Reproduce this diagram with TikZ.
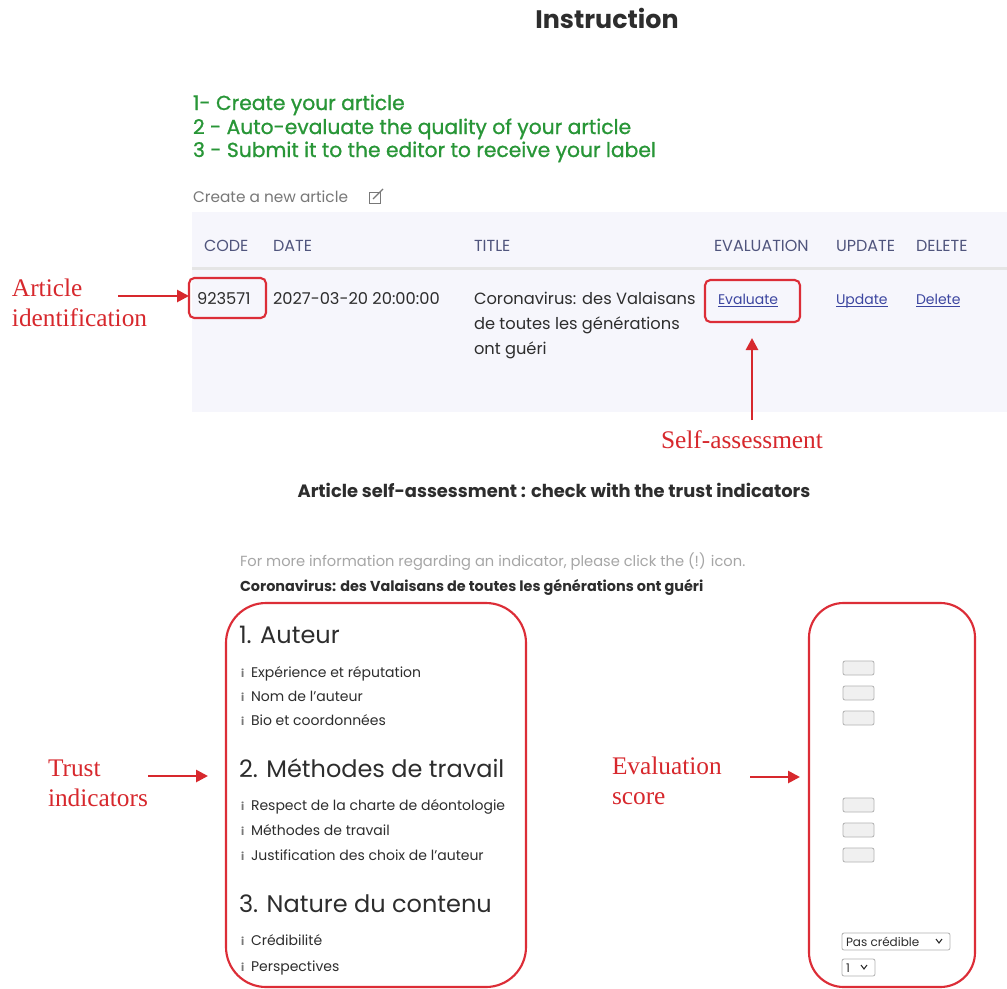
\documentclass[tikz,border=0pt]{standalone}
\usepackage{fontspec}
\setmainfont{Poppins}
\newfontfamily\redserif{Liberation Serif}
\newfontfamily\popmed[FakeBold=1]{Poppins}
\usetikzlibrary{arrows.meta}
\definecolor{boxred}{RGB}{220,45,55}
\definecolor{lblred}{RGB}{215,40,45}
\definecolor{stepgreen}{RGB}{40,150,55}
\definecolor{hdrblue}{RGB}{80,85,125}
\definecolor{linkblue}{RGB}{60,70,160}
\definecolor{tablebg}{RGB}{246,246,252}
\definecolor{txtdark}{RGB}{45,45,45}
\definecolor{txtgray}{RGB}{120,120,120}
\begin{document}
\begin{tikzpicture}[x=0.75pt,y=-0.75pt,
  every node/.style={inner sep=0pt,outer sep=0pt},
  hdr/.style={anchor=base west,text=hdrblue,font=\fontsize{12}{14}\selectfont},
  rowtxt/.style={anchor=base west,text=txtdark,font=\fontsize{12.2}{14}\selectfont},
  linktxt/.style={anchor=base west,text=linkblue,font=\fontsize{10.5}{12}\selectfont},
  green/.style={anchor=base west,text=stepgreen,font=\popmed\fontsize{15.2}{18}\selectfont},
  heading/.style={anchor=base west,text=txtdark,font=\fontsize{18}{21}\selectfont},
  item/.style={anchor=base west,text=txtdark,font=\fontsize{10.5}{12}\selectfont},
  icon/.style={anchor=base west,text=txtgray,font=\bfseries\fontsize{8}{9}\selectfont},
  lbl/.style={anchor=north west,align=left,text=lblred,font=\redserif\fontsize{19}{22.5}\selectfont},
  redbox/.style={draw=boxred,line width=1.6pt,rounded corners=4pt},
  bigbox/.style={draw=boxred,line width=1.6pt},
  redarrow/.style={draw=lblred,line width=2pt,-{Triangle[length=9pt,width=9pt]}},
  inbox/.style={draw=black!30,fill=black!6,rounded corners=1.5pt,line width=0.6pt},
  uline/.style={draw=linkblue,line width=0.5pt},
]
\useasboundingbox (0,0) rectangle (1007,989);
\fill[white] (0,0) rectangle (1007,989);

% title
\node[anchor=base,font=\bfseries\fontsize{19}{22}\selectfont,text=txtdark] (title) at (607,28) {Instruction};

% steps
\node[green] (s1) at (193,110) {1- Create your article};
\node[green] (s2) at (193,134) {2 - Auto-evaluate the quality of your article};
\node[green] (s3) at (193,157) {3 - Submit it to the editor to receive your label};

\node[anchor=base west,text=txtgray,font=\fontsize{11.5}{13}\selectfont] (create) at (193,202) {Create a new article};
\draw[txtgray,line width=0.6pt] (369,192) rectangle (380,203);
\draw[txtgray,line width=0.9pt] (373,199) -- (383,189);

% table
\fill[tablebg] (192,212) rectangle (1007,412);
\fill[black!10] (192,267) rectangle (1007,270);
\node[hdr] (hcode) at (204,251) {CODE};
\node[hdr] (hdate) at (273,251) {DATE};
\node[hdr] (htitle) at (474,251) {TITLE};
\node[hdr] (heval) at (714,251) {EVALUATION};
\node[hdr] (hupd) at (836,251) {UPDATE};
\node[hdr] (hdel) at (916,251) {DELETE};

\node[rowtxt] (code) at (197,304) {923571};
\node[rowtxt] (date) at (273,304) {2027-03-20 20:00:00};
\node[rowtxt] (t1) at (474,304) {Coronavirus: des Valaisans};
\node[rowtxt] (t2) at (474,329) {de toutes les générations};
\node[rowtxt] (t3) at (474,354) {ont guéri};
\node[linktxt] (evl) at (718,304) {Evaluate};
\node[linktxt] (upd) at (836,304) {Update};
\node[linktxt] (del) at (916,304) {Delete};
\foreach \n in {evl,upd,del}{
  \draw[uline] ([yshift=-2pt]\n.base west) -- ([yshift=-2pt]\n.base east);
}

\node[redbox,anchor=north west,minimum width=57.75pt,minimum height=30pt] (codebox) at (189,278) {};
\node[redbox,anchor=north west,minimum width=71.25pt,minimum height=31.5pt] (evalbox) at (705,280) {};

% labels top
\node[lbl] (artid) at (12,279) {Article\\identification};
\coordinate (artstart) at (118,296);
\draw[redarrow] (artstart) -- (codebox.west |- artstart);

\node[lbl,anchor=north,align=center] (selfas) at (742,431) {Self-assessment};
\coordinate (selfstart) at (752,420);
\draw[redarrow] (selfstart) -- ([yshift=-12pt]evalbox.south -| selfstart);

% second part
\node[anchor=base,font=\bfseries\fontsize{13.4}{16}\selectfont,text=txtdark] (sub) at (554,497) {Article self-assessment : check with the trust indicators};
\node[anchor=base west,text=black!35,font=\fontsize{11}{13}\selectfont] (info) at (240,566) {For more information regarding an indicator, please click the (!) icon.};
\node[anchor=base west,text=txtdark,font=\bfseries\fontsize{10.8}{13}\selectfont] (arttitle) at (240,591) {Coronavirus: des Valaisans de toutes les générations ont guéri};

% left box
\draw[bigbox,rounded corners=30pt] (226,603) rectangle (526,987);
\node[heading] (h1) at (239,643) {1. Auteur};
\node[icon] (i1) at (241,677) {i}; \node[item] (a1) at (251,677) {Expérience et réputation};
\node[icon] (i2) at (241,701) {i}; \node[item] (a2) at (251,701) {Nom de l'auteur};
\node[icon] (i3) at (241,725) {i}; \node[item] (a3) at (251,725) {Bio et coordonnées};
\node[heading] (h2) at (239,777) {2. Méthodes de travail};
\node[icon] (i4) at (241,810) {i}; \node[item] (b1) at (251,810) {Respect de la charte de déontologie};
\node[icon] (i5) at (241,835) {i}; \node[item] (b2) at (251,835) {Méthodes de travail};
\node[icon] (i6) at (241,860) {i}; \node[item] (b3) at (251,860) {Justification des choix de l'auteur};
\node[heading] (h3) at (239,912) {3. Nature du contenu};
\node[icon] (i7) at (241,945) {i}; \node[item] (c1) at (251,945) {Crédibilité};
\node[icon] (i8) at (241,971) {i}; \node[item] (c2) at (251,971) {Perspectives};

% right box
\draw[bigbox,rounded corners=26pt] (809,603) rectangle (975,987);
\foreach \yy in {668,693,718,805,830,855}{
  \draw[inbox] (843,\yy-7) rectangle (874,\yy+7);
}
\draw[inbox,fill=white] (842,933) rectangle (950,950);
\node[anchor=base west,text=txtdark,font=\fontsize{9}{10}\selectfont] (pas) at (846,946) {Pas crédible};
\draw[txtdark,line width=0.8pt] (936,939) -- (939,943) -- (942,939);
\draw[inbox,fill=white] (842,959) rectangle (875,976);
\node[anchor=base west,text=txtdark,font=\fontsize{9}{10}\selectfont] (one) at (846,972) {1};
\draw[txtdark,line width=0.8pt] (861,965) -- (864,969) -- (867,965);

% lower labels
\node[lbl] (trust) at (48,760) {Trust\\indicators};
\coordinate (trstart) at (148,776);
\coordinate (trend) at (208,776);
\draw[redarrow] (trstart) -- (trend);

\node[lbl] (evsc) at (612,757) {Evaluation\\score};
\coordinate (evstart) at (750,777);
\coordinate (evend) at (800,777);
\draw[redarrow] (evstart) -- (evend);
\end{tikzpicture}
\end{document}
